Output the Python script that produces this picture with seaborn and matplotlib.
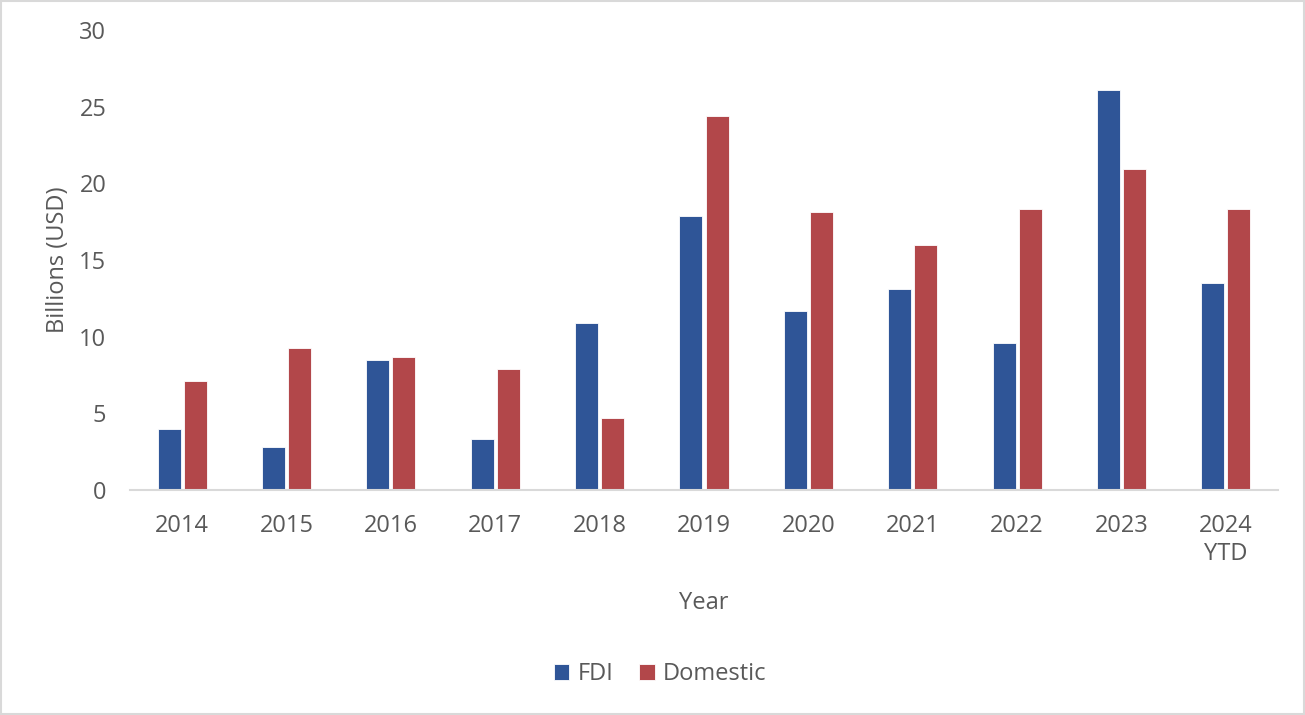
import numpy as np
import pandas as pd
import seaborn as sns
import matplotlib.pyplot as plt
from matplotlib.patches import Rectangle

# values (billions USD)
years = ['2014', '2015', '2016', '2017', '2018', '2019', '2020', '2021', '2022', '2023', '2024\nYTD']
fdi = [4.0, 2.8, 8.45, 3.3, 10.9, 17.9, 11.7, 13.1, 9.6, 26.1, 13.5]
domestic = [7.1, 9.25, 8.7, 7.9, 4.7, 24.4, 18.1, 16.0, 18.3, 20.95, 18.3]
series = ['FDI', 'Domestic']
colors = {'FDI': '#2F5597', 'Domestic': '#B2474A'}

df = pd.DataFrame({
    'Year': years * 2,
    'Value': fdi + domestic,
    'Type': ['FDI'] * len(years) + ['Domestic'] * len(years),
})

sns.set_theme(style='white')
plt.rcParams['font.family'] = ['Open Sans', 'DejaVu Sans']
text_col = '#595959'

fig = plt.figure(figsize=(13.05, 7.15), dpi=100)
ax = fig.add_axes([130 / 1305, 1 - 490 / 715, (1278 - 130) / 1305, 460 / 715])

sns.barplot(data=df, x='Year', y='Value', hue='Type', hue_order=series,
            palette=colors, saturation=1, width=0.5, gap=0.12, ax=ax,
            edgecolor='white', linewidth=0.6, legend=True)

ax.set_ylim(0, 30)
ax.set_yticks(np.arange(0, 31, 5))
for s in ['left', 'top', 'right']:
    ax.spines[s].set_visible(False)
ax.spines['bottom'].set_color('#d9d9d9')
ax.spines['bottom'].set_linewidth(1.5)

ax.tick_params(axis='both', length=0, labelsize=17, labelcolor=text_col)
ax.tick_params(axis='y', pad=17)
ax.tick_params(axis='x', pad=17)
for lbl in ax.get_xticklabels():
    lbl.set_linespacing(1.25)

ax.set_ylabel('Billions (USD)', fontsize=17, color=text_col)
ax.yaxis.label.set_va('center')
ax.yaxis.set_label_coords(-0.063, 0.5)
ax.set_xlabel('Year', fontsize=17, color=text_col)
ax.xaxis.label.set_va('center')
ax.xaxis.set_label_coords(0.5, -0.245)

handles, labels = ax.get_legend_handles_labels()
ax.get_legend().remove()
leg = fig.legend(handles, labels, loc='center', bbox_to_anchor=(660 / 1305, 1 - 674 / 715),
                 ncol=2, frameon=False, fontsize=17, handlelength=0.65, handleheight=0.65,
                 handletextpad=0.35, columnspacing=1.1)
for t in leg.get_texts():
    t.set_color(text_col)

fig.add_artist(Rectangle((0.001, 0.001), 0.998, 0.997, transform=fig.transFigure,
                         fill=False, edgecolor='#d9d9d9', linewidth=1.5))

fig.savefig('out.png', dpi=100)
